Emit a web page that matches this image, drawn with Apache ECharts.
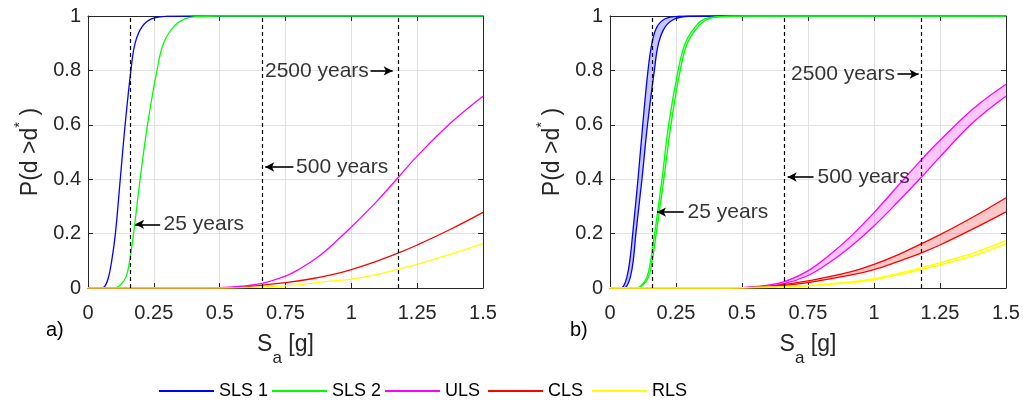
<!DOCTYPE html>
<html><head><meta charset="utf-8">
<script src="https://cdn.jsdelivr.net/npm/echarts@6/dist/echarts.min.js"></script>
<style>html,body{margin:0;padding:0;background:#fff}#c{width:1023px;height:401px}</style>
</head><body><div id="c"></div>
<script>
// ---------- data ----------
const names  = ['SLS 1', 'SLS 2', 'ULS', 'CLS', 'RLS'];
const colors = ['#0000ff', '#00ff00', '#ff00ff', '#ff0000', '#ffff00'];
const fills  = ['rgba(0,0,255,0.22)', 'rgba(0,255,0,0.22)', 'rgba(255,0,255,0.22)', 'rgba(255,0,0,0.22)', 'rgba(255,255,0,0.22)'];
const xTickValues = [0, 0.25, 0.5, 0.75, 1, 1.25, 1.5];
const yTickValues = [0, 0.2, 0.4, 0.6, 0.8, 1];
const returnPeriodSa = [0.163, 0.656, 1.181];   // 25, 500, 2500 years

// (a) fragility curves [Sa, P]
const aSLS1 = [[0,0],[0.05,0],[0.065,0.008],[0.078,0.04],[0.09,0.1],[0.104,0.2],[0.1225,0.4],[0.141,0.6],[0.163,0.8],[0.179,0.9],[0.205,0.96],[0.243,0.99],[0.3,0.999],[0.4,1],[1.5,1]];
const aSLS2 = [[0,0],[0.1,0],[0.12,0.008],[0.144,0.04],[0.158,0.1],[0.173,0.2],[0.198,0.4],[0.226,0.6],[0.262,0.8],[0.287,0.9],[0.325,0.96],[0.369,0.99],[0.42,0.998],[0.5,1],[1.5,1]];
const aULS  = [[0,0],[0.45,0],[0.55,0.004],[0.657,0.016],[0.748,0.043],[0.8,0.068],[0.868,0.11],[0.919,0.151],[1.0,0.224],[1.1,0.322],[1.182,0.411],[1.25,0.485],[1.374,0.604],[1.5,0.705]];
const aCLS  = [[0,0],[0.5,0],[0.6,0.004],[0.657,0.01],[0.75,0.02],[0.85,0.034],[0.919,0.047],[1.0,0.068],[1.1,0.1],[1.182,0.13],[1.25,0.158],[1.375,0.215],[1.5,0.278]];
const aRLS  = [[0,0],[0.5,0],[0.657,0.004],[0.75,0.008],[0.919,0.025],[1.0,0.033],[1.1,0.05],[1.182,0.07],[1.25,0.087],[1.375,0.124],[1.5,0.163]];

// (b) bounds of fragility curves [Sa, P]
const bSLS1up = [[0,0],[0.04,0],[0.052,0.008],[0.064,0.04],[0.075,0.1],[0.086,0.2],[0.106,0.4],[0.124,0.6],[0.144,0.8],[0.159,0.9],[0.178,0.96],[0.209,0.99],[0.26,0.999],[0.35,1],[1.5,1]];
const bSLS1lo = [[0,0],[0.05,0],[0.064,0.008],[0.077,0.04],[0.088,0.1],[0.098,0.2],[0.121,0.4],[0.142,0.6],[0.168,0.8],[0.184,0.9],[0.209,0.96],[0.247,0.99],[0.3,0.999],[0.4,1],[1.5,1]];
const bSLS2up = [[0,0],[0.1,0],[0.118,0.008],[0.14,0.04],[0.154,0.1],[0.169,0.2],[0.197,0.4],[0.222,0.6],[0.258,0.8],[0.285,0.9],[0.323,0.96],[0.361,0.99],[0.42,0.998],[0.5,1],[1.5,1]];
const bSLS2lo = [[0,0],[0.104,0],[0.122,0.008],[0.146,0.04],[0.16,0.1],[0.175,0.2],[0.204,0.4],[0.231,0.6],[0.266,0.8],[0.293,0.9],[0.333,0.96],[0.374,0.99],[0.43,0.998],[0.52,1],[1.5,1]];
const bULSup  = [[0,0],[0.45,0],[0.55,0.005],[0.655,0.022],[0.748,0.062],[0.83,0.12],[0.91,0.188],[1.0,0.277],[1.09,0.375],[1.18,0.472],[1.25,0.543],[1.377,0.66],[1.5,0.749]];
const bULSlo  = [[0,0],[0.45,0],[0.55,0.003],[0.655,0.015],[0.748,0.045],[0.83,0.093],[0.91,0.151],[1.0,0.228],[1.09,0.316],[1.18,0.408],[1.25,0.482],[1.377,0.61],[1.5,0.705]];
const bCLSup  = [[0,0],[0.45,0],[0.6,0.005],[0.655,0.012],[0.75,0.026],[0.91,0.059],[1.0,0.087],[1.09,0.122],[1.18,0.163],[1.25,0.196],[1.377,0.262],[1.5,0.332]];
const bCLSlo  = [[0,0],[0.45,0],[0.6,0.003],[0.655,0.009],[0.75,0.02],[0.91,0.047],[1.0,0.068],[1.09,0.097],[1.18,0.129],[1.25,0.158],[1.377,0.218],[1.5,0.28]];
const bRLSup  = [[0,0],[0.45,0],[0.655,0.005],[0.75,0.009],[0.91,0.022],[1.0,0.034],[1.09,0.053],[1.18,0.075],[1.377,0.129],[1.5,0.175]];
const bRLSlo  = [[0,0],[0.45,0],[0.655,0.004],[0.75,0.008],[0.91,0.02],[1.0,0.03],[1.09,0.048],[1.18,0.068],[1.377,0.118],[1.5,0.163]];

// annotations: text [Sa, P, label], arrows [x1, x2, P, head side]
const aTexts  = [[0.287,0.234,'25 years'],[0.790,0.445,'500 years'],[0.672,0.798,'2500 years']];
const aArrows = [[0.179,0.274,0.234,'start'],[0.673,0.780,0.445,'start'],[1.073,1.157,0.798,'end']];
const bTexts  = [[0.294,0.279,'25 years'],[0.786,0.408,'500 years'],[0.686,0.786,'2500 years']];
const bArrows = [[0.178,0.279,0.279,'start'],[0.673,0.771,0.408,'start'],[1.089,1.169,0.786,'end']];
const panelLabels = ['a)', 'b)'];

// ---------- chart ----------
const FONT = "'Liberation Sans', Arial, Helvetica, sans-serif";
const AX = '#262626';
const chart = echarts.init(document.getElementById('c'), null, {renderer: 'canvas'});

const grids = [
  {left: 88, top: 16, width: 395, height: 272},
  {left: 610, top: 16, width: 396, height: 272}
];

function mainX(g) {
  return {
    type: 'value', gridIndex: g, min: 0, max: 1.5, interval: 0.25, position: 'bottom',
    axisLine: {show: true, onZero: false, lineStyle: {color: AX, width: 1}},
    axisTick: {show: true, inside: true, length: 5, lineStyle: {color: AX}},
    axisLabel: {color: '#262626', fontSize: 20, fontFamily: FONT, margin: 15,
      formatter: v => xTickValues.includes(v) ? String(v) : ''},
    splitLine: {show: true, lineStyle: {color: '#e2e2e2', width: 1}},
    name: '{s|S}{sub|a}{s| [g]}', nameLocation: 'middle', nameGap: 45,
    nameTextStyle: {rich: {
      s: {fontSize: 23, fontFamily: FONT, color: '#262626', verticalAlign: 'top', lineHeight: 34},
      sub: {fontSize: 17, fontFamily: FONT, color: '#262626', verticalAlign: 'bottom', lineHeight: 34}
    }}
  };
}
function topX(g) {
  return {
    type: 'value', gridIndex: g, min: 0, max: 1.5, interval: 0.25, position: 'top',
    axisLine: {show: true, onZero: false, lineStyle: {color: AX, width: 1}},
    axisTick: {show: true, inside: true, length: 5, lineStyle: {color: AX}},
    axisLabel: {show: false}, splitLine: {show: false}
  };
}
function mainY(g) {
  return {
    type: 'value', gridIndex: g, min: 0, max: 1, interval: 0.2, position: 'left',
    axisLine: {show: true, onZero: false, lineStyle: {color: AX, width: 1}},
    axisTick: {show: true, inside: true, length: 5, lineStyle: {color: AX}},
    axisLabel: {color: '#262626', fontSize: 20, fontFamily: FONT, margin: 7,
      formatter: v => String(Math.round(v * 10) / 10)},
    splitLine: {show: true, lineStyle: {color: '#e2e2e2', width: 1}},
    name: '{n|P(d >d}{s|*}{n| )}', nameLocation: 'middle', nameGap: 46, nameRotate: 90,
    nameTextStyle: {rich: {
      n: {fontSize: 23, fontFamily: FONT, color: '#262626', verticalAlign: 'bottom', lineHeight: 30},
      s: {fontSize: 15, fontFamily: FONT, color: '#262626', verticalAlign: 'top', lineHeight: 30}
    }}
  };
}
function rightY(g) {
  return {
    type: 'value', gridIndex: g, min: 0, max: 1, interval: 0.2, position: 'right',
    axisLine: {show: true, onZero: false, lineStyle: {color: AX, width: 1}},
    axisTick: {show: true, inside: true, length: 5, lineStyle: {color: AX}},
    axisLabel: {show: false}, splitLine: {show: false}
  };
}

function lineSeries(name, data, g, idx) {
  return {
    type: 'line', name: name, data: data, xAxisIndex: 2 * g, yAxisIndex: 2 * g,
    showSymbol: false, symbol: 'none', smooth: 0.4,
    lineStyle: {color: colors[idx], width: 1.3}, itemStyle: {color: colors[idx]},
    z: 3, silent: true
  };
}
function bandSeries(up, lo, g, idx) {
  return {
    type: 'custom', name: names[idx] + ' band', xAxisIndex: 2 * g, yAxisIndex: 2 * g,
    data: [[0, 0]], silent: true, z: 2,
    renderItem: (params, api) => ({
      type: 'polygon',
      shape: {points: up.concat(lo.slice().reverse()).map(p => api.coord(p))},
      style: {fill: fills[idx], stroke: 'none'}
    })
  };
}
function annotationSeries(texts, arrows, g) {
  const lines = returnPeriodSa.map(v => ({xAxis: v,
    lineStyle: {color: '#000', width: 1.2, type: [4, 3]}}));
  arrows.forEach(a => {
    lines.push([
      {coord: [a[0], a[2]], symbol: a[3] === 'start' ? 'arrow' : 'none', symbolSize: [7, 9]},
      {coord: [a[1], a[2]], symbol: a[3] === 'end' ? 'arrow' : 'none', symbolSize: [7, 9],
       lineStyle: {color: '#000', width: 1.6, type: 'solid'}}
    ]);
  });
  return {
    type: 'scatter', name: 'annot' + g, xAxisIndex: 2 * g, yAxisIndex: 2 * g,
    symbolSize: 0, silent: true, z: 5,
    data: texts.map(t => ({name: t[2], value: [t[0], t[1]]})),
    label: {show: true, position: 'right', distance: 0, formatter: '{b}',
      fontSize: 21, fontFamily: FONT, color: '#000'},
    markLine: {
      silent: true, animation: false, symbol: 'none',
      label: {show: false}, emphasis: {disabled: true},
      lineStyle: {color: '#000', width: 1.6, type: 'solid'},
      data: lines
    }
  };
}

const series = [];
[aSLS1, aSLS2, aULS, aCLS, aRLS].forEach((d, i) => series.push(lineSeries(names[i], d, 0, i)));
const bUp = [bSLS1up, bSLS2up, bULSup, bCLSup, bRLSup];
const bLo = [bSLS1lo, bSLS2lo, bULSlo, bCLSlo, bRLSlo];
bUp.forEach((u, i) => series.push(bandSeries(u, bLo[i], 1, i)));
bUp.forEach((u, i) => {
  series.push(lineSeries(names[i], u, 1, i));
  series.push(lineSeries(names[i], bLo[i], 1, i));
});
series.push(annotationSeries(aTexts, aArrows, 0));
series.push(annotationSeries(bTexts, bArrows, 1));

const legendLeft = [154, 267, 380, 483, 587];
const legends = names.map((n, i) => ({
  data: [n], left: legendLeft[i], top: 377, itemWidth: 55, itemHeight: 2, itemGap: 0,
  icon: 'rect', selectedMode: false,
  itemStyle: {borderWidth: 0},
  textStyle: {fontSize: 18, fontFamily: FONT, color: '#000', padding: [0, 0, 0, 0]}
}));

chart.setOption({
  animation: false,
  backgroundColor: '#fff',
  grid: grids,
  xAxis: [mainX(0), topX(0), mainX(1), topX(1)],
  yAxis: [mainY(0), rightY(0), mainY(1), rightY(1)],
  legend: legends,
  graphic: [
    {type: 'text', left: 46, top: 320, style: {text: panelLabels[0], fontSize: 20, fontFamily: FONT, fill: '#000'}},
    {type: 'text', left: 570, top: 320, style: {text: panelLabels[1], fontSize: 20, fontFamily: FONT, fill: '#000'}}
  ],
  series: series
});
</script>
</body></html>
